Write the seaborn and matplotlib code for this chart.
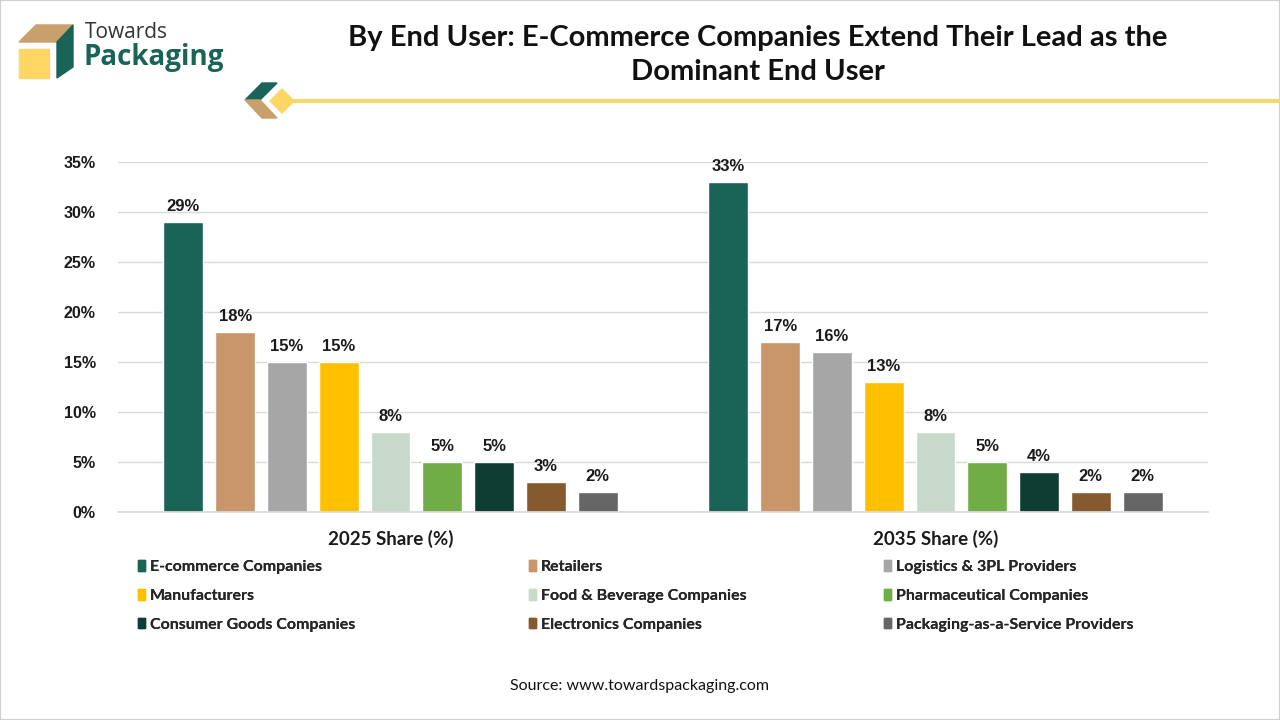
import matplotlib
matplotlib.use("Agg")
import matplotlib.pyplot as plt
from matplotlib.patches import Polygon, Rectangle
from matplotlib.lines import Line2D
import seaborn as sns
import pandas as pd

periods = ["2025 Share (%)", "2035 Share (%)"]
end_users = [
    "E-commerce Companies", "Retailers", "Logistics & 3PL Providers",
    "Manufacturers", "Food & Beverage Companies", "Pharmaceutical Companies",
    "Consumer Goods Companies", "Electronics Companies", "Packaging-as-a-Service Providers",
]
share_2025 = [29, 18, 15, 15, 8, 5, 5, 3, 2]
share_2035 = [33, 17, 16, 13, 8, 5, 4, 2, 2]
colors = ["#1A6357", "#C9956A", "#A6A6A6", "#FFC000", "#C7D9CB",
          "#70AD47", "#0E3D33", "#845A2E", "#666666"]

rows = []
for p, vals in zip(periods, [share_2025, share_2035]):
    for u, v in zip(end_users, vals):
        rows.append({"period": p, "user": u, "share": v})
df = pd.DataFrame(rows)

sns.set_theme(style="white")
plt.rcParams["font.family"] = ["Liberation Sans", "DejaVu Sans"]

fig = plt.figure(figsize=(12.8, 7.2), dpi=100)
W, H = 1280, 720


def px(x, y):
    return (x / W, 1 - y / H)


ax = fig.add_axes([118 / W, 1 - 512 / H, 1090 / W, 350 / H])
sns.barplot(data=df, x="period", y="share", hue="user", palette=colors,
            width=0.855, gap=0.23, ax=ax, legend=False, saturation=1)
ax.set_ylim(0, 35)
ax.set_xlim(-0.5, 1.5)
ax.set_yticks(range(0, 36, 5))
ax.set_yticklabels([f"{t}%" for t in range(0, 36, 5)], fontsize=11.5,
                   fontweight="bold", color="#1a1a1a")
ax.set_xticklabels(periods, fontsize=13.5, fontweight="bold", color="#1a1a1a",
                   family=["Lato", "DejaVu Sans"])
ax.tick_params(axis="y", length=0, pad=16)
ax.tick_params(axis="x", length=0, pad=13)
ax.set_xlabel("")
ax.set_ylabel("")
ax.yaxis.grid(True, color="#D9D9D9", linewidth=1)
ax.set_axisbelow(True)
for s in ["top", "right", "left"]:
    ax.spines[s].set_visible(False)
ax.spines["bottom"].set_color("#D9D9D9")
for c in ax.containers:
    ax.bar_label(c, fmt="{:.0f}%", padding=6, fontsize=12,
                 fontweight="bold", color="#1a1a1a")

# legend: one column block per legend, row-wise order
handles = [Rectangle((0, 0), 1, 1, color=c) for c in colors]
col_x = [127, 518, 873]
for k, x0 in enumerate(col_x):
    idx = [k, k + 3, k + 6]
    leg = fig.legend([handles[i] for i in idx], [end_users[i] for i in idx],
                     ncol=1, loc="upper left", bbox_to_anchor=px(x0, 549),
                     frameon=False, fontsize=11.5, handlelength=0.42,
                     handleheight=0.65, handletextpad=0.3, labelspacing=0.92,
                     borderpad=0.2)
    for t in leg.get_texts():
        t.set_fontfamily(["Lato", "DejaVu Sans"])
        t.set_fontweight("bold")
        t.set_color("#262626")
    fig.add_artist(leg)

# title
fig.text(*px(758, 55), "By End User: E-Commerce Companies Extend Their Lead as the\nDominant End User",
         ha="center", va="center", fontsize=21, fontweight="bold",
         family=["Lato", "DejaVu Sans"], linespacing=1.4, color="#111111")

fig.text(*px(640, 686), "Source: www.towardspackaging.com", ha="center", va="center",
         fontsize=11.5, family=["Lato", "DejaVu Sans"], color="#111111")

# logo
def poly(pts, color):
    fig.patches.append(Polygon([px(x, y) for x, y in pts], closed=True,
                               transform=fig.transFigure, color=color, zorder=3))

poly([(19, 49), (49, 49), (49, 78), (19, 78)], "#FDD663")
poly([(19, 42), (36, 25), (73, 25), (56, 42)], "#C9A06B")
poly([(57, 42), (73, 25), (73, 67), (57, 78)], "#1A6357")
fig.text(*px(85, 32), "Towards", ha="left", va="center", fontsize=15,
         family=["Open Sans", "DejaVu Sans"], color="#333333")
fig.text(*px(84, 58), "Packaging", ha="left", va="center", fontsize=20,
         fontweight="bold", family=["Open Sans", "DejaVu Sans"], color="#1A6357")

# decorative divider
poly([(245, 100), (262, 83), (277, 83), (260, 100)], "#1A6357")
poly([(245, 100), (262, 118), (277, 118), (260, 100)], "#C9A06B")
poly([(270, 101), (282, 89), (294, 101), (282, 113)], "#FDD663")
fig.lines.append(Line2D([290 / W, 1], [1 - 101 / H] * 2, transform=fig.transFigure,
                        color="#F5D76E", linewidth=3, zorder=2))

# thin border
fig.patches.append(Rectangle((0, 0), 1, 1, transform=fig.transFigure, fill=False,
                             edgecolor="#D0D0D0", linewidth=1.5))

fig.savefig("out.png", dpi=100)
